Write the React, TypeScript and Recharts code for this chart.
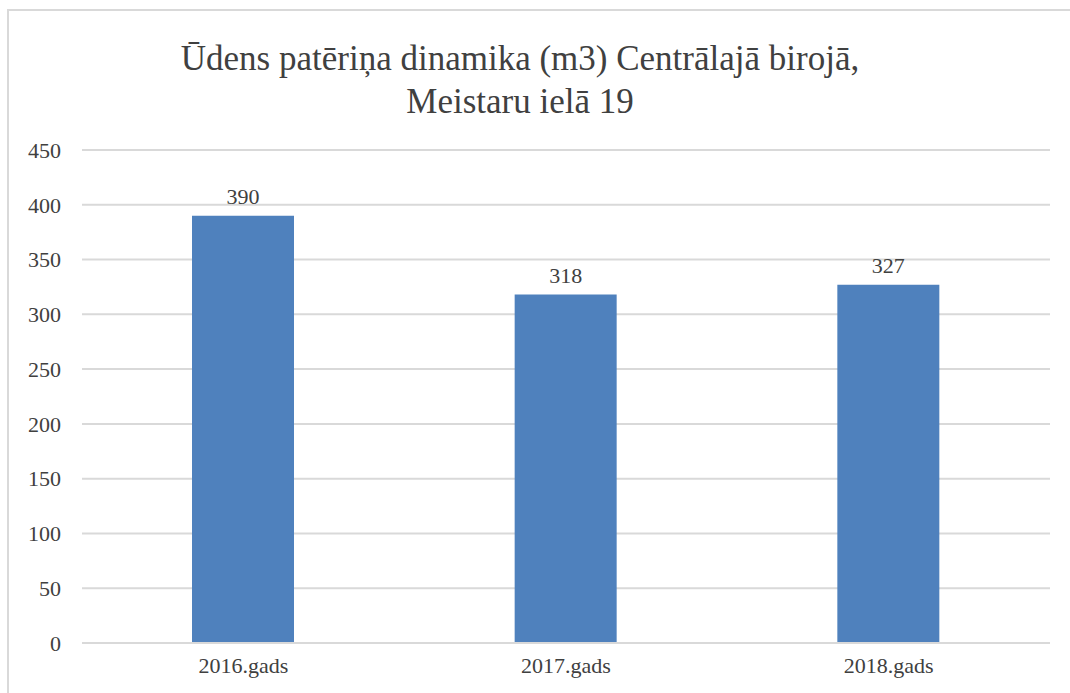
import React from 'react';
import { BarChart, Bar, XAxis, YAxis, CartesianGrid, LabelList } from 'recharts';

const categories = ['2016.gads', '2017.gads', '2018.gads'];
const consumption = [390, 318, 327];
const yTicks = [0, 50, 100, 150, 200, 250, 300, 350, 400, 450];

const data = categories.map((name, i) => ({ name, value: consumption[i] }));

const FONT = 'Liberation Serif, DejaVu Serif, serif';
const TEXT = '#404040';

export default function App() {
  return (
    <div style={{ position: 'absolute', left: 0, top: 0, width: 1070, height: 693, overflow: 'hidden', background: '#fff', fontFamily: FONT }}>
      <div style={{ position: 'absolute', left: 7, top: 9, width: 1100, height: 720, border: '2px solid #d9d9d9', boxSizing: 'border-box' }} />
      <div style={{ position: 'absolute', left: 0, top: 37, width: 1040, textAlign: 'center', fontSize: 35, lineHeight: '43px', color: TEXT }}>
        Ūdens patēriņa dinamika (m3) Centrālajā birojā,<br />Meistaru ielā 19
      </div>
      <div style={{ position: 'absolute', left: 0, top: 0 }}>
        <BarChart width={1070} height={693} data={data} margin={{ top: 150, right: 20, bottom: 0, left: 22 }}>
          <CartesianGrid vertical={false} stroke="#d9d9d9" strokeWidth={2} />
          <XAxis
            dataKey="name"
            height={50}
            axisLine={{ stroke: '#d9d9d9', strokeWidth: 2 }}
            tickLine={false}
            tickSize={0}
            tickMargin={14}
            tick={{ fill: TEXT, fontSize: 22, fontFamily: FONT }}
          />
          <YAxis
            width={60}
            domain={[0, 450]}
            ticks={yTicks}
            axisLine={false}
            tickLine={false}
            tickSize={0}
            tickMargin={21}
            tick={{ fill: TEXT, fontSize: 22, fontFamily: FONT }}
          />
          <Bar dataKey="value" fill="#4f81bd" barSize={102} isAnimationActive={false}>
            <LabelList dataKey="value" position="top" offset={12} fill={TEXT} fontSize={22} fontFamily={FONT} />
          </Bar>
        </BarChart>
      </div>
    </div>
  );
}
